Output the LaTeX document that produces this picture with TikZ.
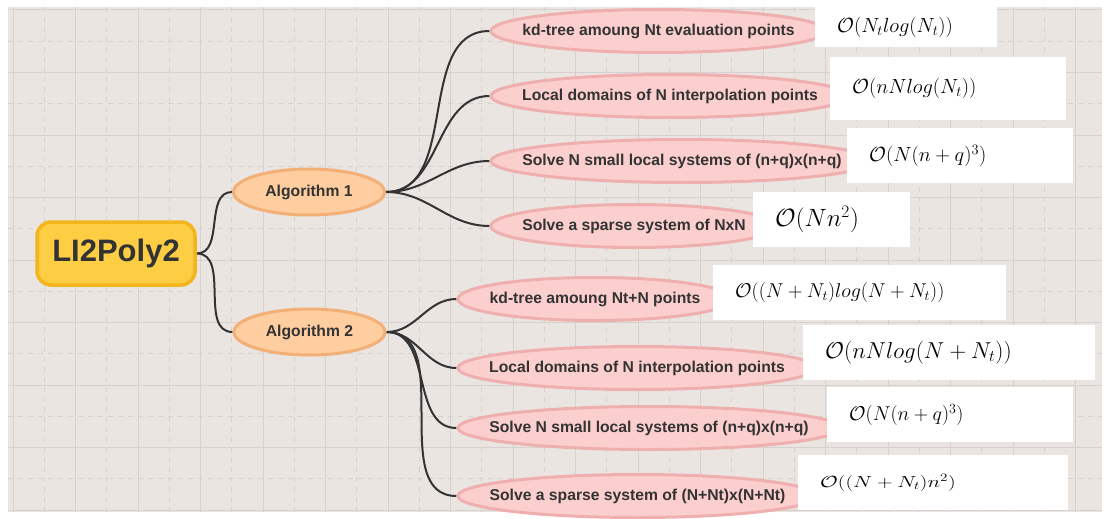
\RequirePackage{fix-cm}
\documentclass[tikz,border=0pt]{standalone}
\usepackage{fontspec}
\usepackage{graphicx}
\usetikzlibrary{shapes.geometric,backgrounds}
\newfontfamily\mapfont{Liberation Sans}
\definecolor{canvas}{HTML}{EAE5E1}
\definecolor{gridline}{HTML}{D6D1CE}
\definecolor{rootfill}{HTML}{FDCD44}
\definecolor{rootdraw}{HTML}{F3B41C}
\definecolor{algfill}{HTML}{FECDA0}
\definecolor{algdraw}{HTML}{F2B076}
\definecolor{leaffill}{HTML}{FCCFCF}
\definecolor{leafdraw}{HTML}{EFAFAF}
\definecolor{inkgray}{HTML}{333333}
\tikzset{
  rootbox/.style={draw=rootdraw, fill=rootfill, line width=3.5pt, rounded corners=14pt,
                  minimum width=158pt, minimum height=63pt, text=inkgray,
                  font=\mapfont\bfseries\fontsize{31}{36}\selectfont},
  algnode/.style={ellipse, draw=algdraw, fill=algfill, line width=3pt, minimum width=151pt,
                  minimum height=46pt, text=inkgray, font=\mapfont\bfseries\fontsize{15.7}{18}\selectfont},
  leaf/.style={ellipse, draw=leafdraw, fill=leaffill, line width=3pt, minimum height=43pt,
               inner sep=0pt, anchor=west, text=inkgray,
               font=\mapfont\bfseries\fontsize{15.7}{18}\selectfont},
  cplx/.style={fill=white, anchor=north west, inner xsep=22pt, inner ysep=0pt, align=left,
               minimum height=55pt},
  link/.style={draw=inkgray, line width=2pt, out=0, in=180},
  major/.style={gridline, line width=1pt},
  minor/.style={gridline, line width=0.8pt, dash pattern=on 5pt off 5pt},
}

\begin{document}
\begin{tikzpicture}[x=1pt, y=-1pt]
  \useasboundingbox (0,0) rectangle (1108,519);
  % canvas with grid
  \begin{scope}[on background layer]
    \fill[canvas] (8,7) rectangle (1102,512);
    \begin{scope}
      \clip (8,7) rectangle (1102,512);
      \foreach \i in {0,...,17} {
        \draw[major] (13+62.5*\i,7) -- ++(0,505);
        \draw[minor] (44.25+62.5*\i,7) -- ++(0,505);
      }
      \foreach \j in {0,...,8} {
        \draw[major] (8,10+62.5*\j) -- ++(1094,0);
        \draw[minor] (8,41.25+62.5*\j) -- ++(1094,0);
      }
    \end{scope}
  \end{scope}

  \node[rootbox] (root) at (116,253.5) {LI2Poly2};
  \node[algnode] (alg1) at (309,192) {Algorithm 1};
  \node[algnode] (alg2) at (309.5,332) {Algorithm 2};

  % Algorithm 1
  \node[leaf, minimum width=335pt] (k1) at (489.5,31) {\makebox[0pt]{kd-tree amoung Nt evaluation points}};
  \node[leaf, minimum width=358pt] (d1) at (489.5,96) {\makebox[0pt]{Local domains of N interpolation points}};
  \node[leaf, minimum width=382pt] (s1) at (489.5,161) {\makebox[0pt]{Solve N small local systems of (n+q)x(n+q)}};
  \node[leaf, minimum width=286pt] (p1) at (489.5,226) {\makebox[0pt]{Solve a sparse system of NxN}};

  \node[cplx, text width=138pt, minimum height=40pt, font=\fontsize{20.5}{24}\selectfont] (ok1) at (815,7) {$\mathcal{O}(N_t log(N_t))$};
  \node[cplx, text width=192pt, minimum height=63pt, font=\fontsize{20.5}{24}\selectfont] (od1) at (830,57) {$\mathcal{O}(nNlog(N_t))$};
  \node[cplx, text width=182pt, font=\fontsize{20.5}{24}\selectfont] (os1) at (847,128) {$\mathcal{O}(N(n+q)^3)$};
  \node[cplx, text width=113pt, font=\fontsize{25}{30}\selectfont] (op1) at (753,192) {$\mathcal{O}(Nn^2)$};

  % Algorithm 2
  \node[leaf, minimum width=274pt] (k2) at (456.5,299) {\makebox[0pt]{kd-tree amoung Nt+N points}};
  \node[leaf, minimum width=358pt] (d2) at (456.5,368) {\makebox[0pt]{Local domains of N interpolation points}};
  \node[leaf, minimum width=382pt] (s2) at (456.5,428) {\makebox[0pt]{Solve N small local systems of (n+q)x(n+q)}};
  \node[leaf, minimum width=359pt] (p2) at (456.5,496) {\makebox[0pt]{Solve a sparse system of (N+Nt)x(N+Nt)}};

  \node[cplx, text width=249pt, font=\fontsize{20}{24}\selectfont] (ok2) at (713,265) {$\mathcal{O}((N+N_t)log(N+N_t))$};
  \node[cplx, text width=248pt, font=\fontsize{23}{28}\selectfont] (od2) at (803,325) {$\mathcal{O}(nNlog(N+N_t))$};
  \node[cplx, text width=202pt, font=\fontsize{20}{24}\selectfont] (os2) at (827,387) {$\mathcal{O}(N(n+q)^3)$};
  \node[cplx, text width=226pt, font=\fontsize{21.5}{26}\selectfont] (op2) at (798,455) {\scalebox{1}[0.75]{$\mathcal{O}((N+N_t)n^2)$}};

  % branches
  \begin{scope}[on background layer]
    \draw[link] (root.east) to (alg1.west);
    \draw[link] (root.east) to (alg2.west);
    \foreach \n in {k1,d1,s1,p1} \draw[link] (alg1.east) to (\n.west);
    \foreach \n in {k2,d2,s2,p2} \draw[link] (alg2.east) to (\n.west);
  \end{scope}
\end{tikzpicture}
\end{document}
